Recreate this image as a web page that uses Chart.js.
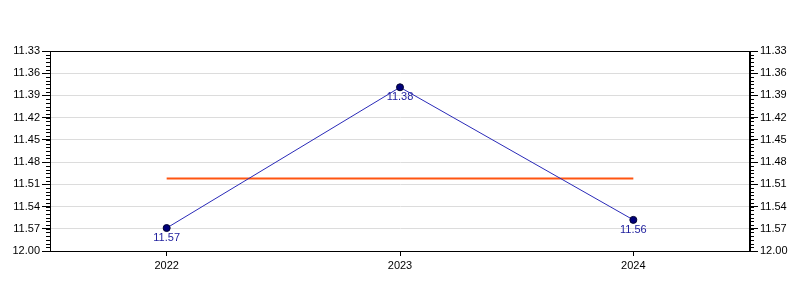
<!DOCTYPE html>
<html><head><meta charset="utf-8">
<script src="https://cdn.jsdelivr.net/npm/chart.js@4"></script>
<style>html,body{margin:0;padding:0;background:#fff}#w{width:800px;height:300px}</style>
</head><body><div id="w"><canvas id="c" width="800" height="300"></canvas></div>
<script>
const categories = ['2022', '2023', '2024'];
const values = [11.569, 11.379, 11.558];
const meanLine = [11.502, 11.502, 11.502];
const tickValues = [11.33, 11.36, 11.39, 11.42, 11.45, 11.48, 11.51, 11.54, 11.57, 11.60];
const tickLabels = ['11.33', '11.36', '11.39', '11.42', '11.45', '11.48', '11.51', '11.54', '11.57', '12.00'];
const minorStep = 0.005;

const FONT = {family: 'Liberation Sans, Arial, sans-serif', size: 11};

function yAxis(pos) {
  return {
    type: 'linear', position: pos, reverse: true, min: 11.33, max: 11.60,
    afterBuildTicks: s => { s.ticks = tickValues.map(v => ({value: v})); },
    afterFit: s => { s.width = 50; },
    ticks: {
      color: '#000', font: FONT, padding: 2,
      callback: (v, i) => tickLabels[i]
    },
    grid: {
      display: true, drawOnChartArea: pos === 'left', color: '#dcdcdc',
      tickLength: 8, tickColor: '#000', drawTicks: true
    },
    border: {display: true, color: '#000', width: 1}
  };
}

const extras = {
  id: 'extras',
  afterDraw(chart) {
    const ctx = chart.ctx, a = chart.chartArea;
    ctx.save();
    ctx.strokeStyle = '#000'; ctx.lineWidth = 1;
    ctx.strokeRect(Math.round(a.left) + 0.5, Math.round(a.top) + 0.5, Math.round(a.right - a.left) - 1, Math.round(a.bottom - a.top));
    ['y', 'y2'].forEach(id => {
      const s = chart.scales[id];
      const n = Math.round((s.max - s.min) / minorStep);
      ctx.beginPath();
      for (let i = 1; i < n; i++) {
        const v = s.min + i * minorStep;
        const py = Math.round(s.getPixelForValue(v)) + 0.5;
        if (id === 'y') { ctx.moveTo(a.left - 4, py); ctx.lineTo(a.left, py); }
        else { ctx.moveTo(a.right, py); ctx.lineTo(a.right + 4, py); }
      }
      ctx.stroke();
    });
    const meta = chart.getDatasetMeta(0);
    ctx.fillStyle = '#1c1c9c';
    ctx.font = '11px Liberation Sans, Arial, sans-serif';
    ctx.textAlign = 'center'; ctx.textBaseline = 'middle';
    meta.data.forEach((pt, i) => {
      ctx.fillText(values[i].toFixed(2), pt.x, pt.y + 10);
    });
    ctx.restore();
  }
};

new Chart(document.getElementById('c'), {
  type: 'line',
  data: {
    labels: categories,
    datasets: [
      {data: values, borderColor: '#2a2ab8', borderWidth: 1, pointRadius: 3.5, pointBackgroundColor: '#00007a',
       pointBorderColor: '#000030', pointBorderWidth: 1, tension: 0, yAxisID: 'y'},
      {data: meanLine, borderColor: '#ff5511', borderWidth: 2, pointRadius: 0, tension: 0, yAxisID: 'y'}
    ]
  },
  options: {
    responsive: false, animation: false, devicePixelRatio: 1,
    layout: {padding: {top: 51, left: 0, right: 0, bottom: 0}},
    plugins: {legend: {display: false}, tooltip: {enabled: false}},
    scales: {
      x: {
        type: 'category', offset: true,
        afterFit: s => { s.height = 49; },
        ticks: {color: '#000', font: FONT, padding: 3},
        grid: {display: true, drawOnChartArea: false, tickLength: 5, tickColor: '#000', offset: false},
        border: {display: true, color: '#000'}
      },
      y: yAxis('left'),
      y2: yAxis('right')
    }
  },
  plugins: [extras]
});
</script></body></html>
